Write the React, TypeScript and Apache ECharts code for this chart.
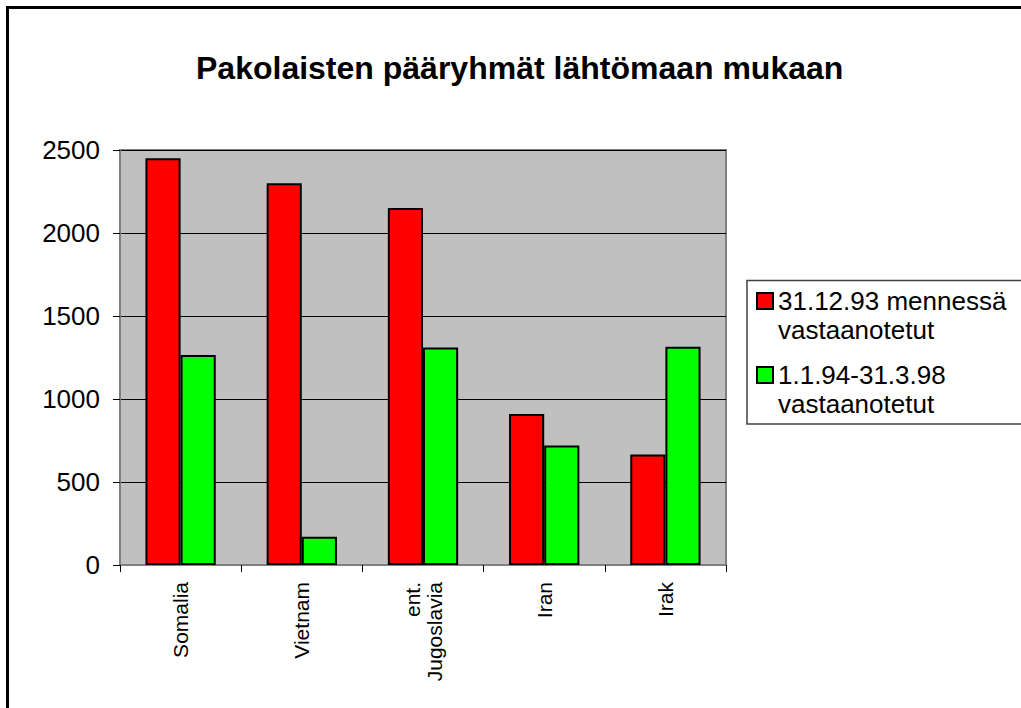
import React, { useEffect, useRef } from "react";
import * as echarts from "echarts";

const titleText = "Pakolaisten pääryhmät lähtömaan mukaan";
const categories = ["Somalia", "Vietnam", "ent.\nJugoslavia", "Iran", "Irak"];
const seriesNames = ["31.12.93 mennessä\nvastaanotetut", "1.1.94-31.3.98\nvastaanotetut"];
const before94 = [2450, 2300, 2150, 910, 665];
const after94 = [1265, 170, 1310, 720, 1315];
const yMin = 0;
const yMax = 2500;
const yStep = 500;

const FONT = "'Liberation Sans', Arial, sans-serif";

const legendBase = {
  orient: "vertical",
  left: 756,
  padding: 0,
  itemWidth: 16,
  itemHeight: 16,
  icon: "rect",
  // leading empty line keeps the icon beside the first text line
  formatter: (name: string) => "\n" + name,
  textStyle: {
    fontFamily: FONT,
    fontSize: 26,
    lineHeight: 29,
    color: "#000",
  },
};

export default function App() {
  const ref = useRef<HTMLDivElement>(null);
  useEffect(() => {
    if (!ref.current) return;
    const chart = echarts.init(ref.current, null, { renderer: "svg" });
    chart.setOption({
      animation: false,
      backgroundColor: "#ffffff",
      textStyle: { fontFamily: FONT, color: "#000" },
      title: {
        text: titleText,
        left: 196,
        top: 52,
        padding: 0,
        textStyle: { fontFamily: FONT, fontSize: 32, fontWeight: "bold", color: "#000" },
      },
      graphic: [
        {
          type: "rect",
          shape: { x: 7.5, y: 7.5, width: 1200, height: 900 },
          style: { fill: "none", stroke: "#000", lineWidth: 3 },
          silent: true,
        },
        {
          type: "rect",
          shape: { x: 747, y: 280.5, width: 400, height: 143.5 },
          style: { fill: "#fff", stroke: "#404040", lineWidth: 1.5 },
          silent: true,
          z: 0,
        },
      ],
      legend: [
        { ...legendBase, top: 257.5, data: [seriesNames[0]] },
        { ...legendBase, top: 331.5, data: [seriesNames[1]] },
      ],
      grid: {
        left: 120,
        top: 150,
        width: 606,
        height: 415,
        show: true,
        backgroundColor: "#C0C0C0",
        borderColor: "#808080",
        borderWidth: 2,
      },
      xAxis: {
        type: "category",
        data: categories,
        boundaryGap: true,
        axisLine: { show: true, lineStyle: { color: "#808080", width: 2 } },
        axisTick: { show: true, length: 7, lineStyle: { color: "#000", width: 1 } },
        axisLabel: {
          rotate: 90,
          margin: 17,
          fontFamily: FONT,
          fontSize: 21,
          lineHeight: 22,
          color: "#000",
        },
        splitLine: { show: false },
      },
      yAxis: {
        type: "value",
        min: yMin,
        max: yMax,
        interval: yStep,
        axisLine: { show: true, lineStyle: { color: "#808080", width: 2 } },
        axisTick: { show: true, length: 7, lineStyle: { color: "#000", width: 1 } },
        axisLabel: {
          margin: 20,
          fontFamily: FONT,
          fontSize: 26,
          color: "#000",
          formatter: (v: number) => String(v),
        },
        splitLine: { show: true, lineStyle: { color: "#000", width: 1 } },
      },
      series: [
        {
          name: seriesNames[0],
          type: "bar",
          data: before94,
          barGap: "0%",
          barCategoryGap: "42%",
          itemStyle: { color: "#FF0000", borderColor: "#000", borderWidth: 2 },
        },
        {
          name: seriesNames[1],
          type: "bar",
          data: after94,
          barGap: "0%",
          barCategoryGap: "42%",
          itemStyle: { color: "#00FF00", borderColor: "#000", borderWidth: 2 },
        },
      ],
    });
    return () => chart.dispose();
  }, []);
  return (
    <div
      ref={ref}
      style={{ position: "absolute", left: 0, top: 0, width: 1021, height: 708 }}
    />
  );
}
